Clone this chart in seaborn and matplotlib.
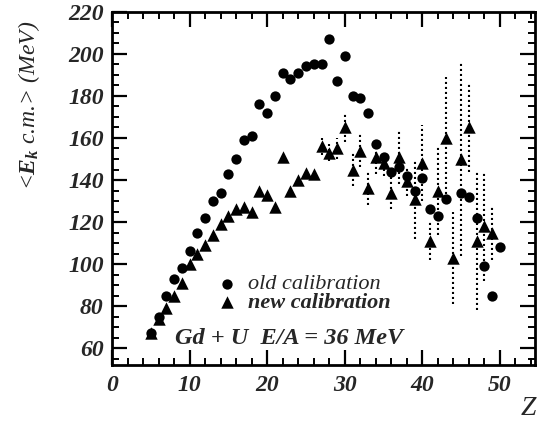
import matplotlib
matplotlib.use("Agg")
import matplotlib.pyplot as plt
from matplotlib.ticker import MultipleLocator
import seaborn as sns
import pandas as pd

# old calibration (circles)
z_old = [5, 6, 7, 8, 9, 10, 11, 12, 13, 14, 15, 16, 17, 18, 19, 20, 21, 22, 23, 24,
         25, 26, 27, 28, 29, 30, 31, 32, 33, 34, 35, 36, 37, 38, 39, 40, 41, 42, 43,
         45, 46, 47, 48, 49, 50]
e_old = [67, 75, 85, 93, 98, 106, 115, 122, 130, 134, 143, 150, 159, 161, 176, 172,
         180, 191, 188, 191, 194, 195, 195, 207, 187, 199, 180, 179, 172, 157, 151,
         144, 146, 142, 135, 141, 126, 123, 131, 134, 132, 122, 99, 85, 108]

# new calibration (triangles) with errors
z_new = list(range(5, 50))
e_new = [67, 74, 79, 85, 91, 100, 105, 109, 114, 119, 123, 126, 127, 125, 135, 133,
         127, 151, 135, 140, 143.5, 143, 156, 153, 155, 165, 145, 154, 136, 151, 148,
         134, 151, 139.5, 131, 148, 111, 135, 160, 103, 150, 165, 111, 118, 115]
err_new = [0, 0, 0, 0, 0, 0, 0, 0, 0, 0, 0, 0, 0, 0, 0, 0, 0, 0, 0, 0, 0, 0,
           4, 4, 5, 7, 8, 8, 8, 8, 6, 8, 13, 7, 19, 18, 9, 21, 29, 22, 46, 21, 33, 26, 13]

labels = ["old calibration", "new calibration"]
x_ticks = [0, 10, 20, 30, 40, 50]
y_ticks = [60, 80, 100, 120, 140, 160, 180, 200, 220]

sns.set_style("ticks")
plt.rcParams["font.family"] = ["Liberation Serif", "DejaVu Serif"]
plt.rcParams["font.weight"] = "bold"
plt.rcParams["font.style"] = "italic"
plt.rcParams["mathtext.fontset"] = "custom"
plt.rcParams["mathtext.it"] = "Liberation Serif:italic:bold"
plt.rcParams["mathtext.rm"] = "Liberation Serif:bold"

df_old = pd.DataFrame({"Z": z_old, "E": e_old})
df_new = pd.DataFrame({"Z": z_new, "E": e_new, "err": err_new})

fig = plt.figure(figsize=(5.52, 4.22), dpi=100)
ax = fig.add_axes([0.203, 0.135, 0.766, 0.837])

eb = ax.errorbar(df_new["Z"], df_new["E"], yerr=df_new["err"], fmt="none",
                 ecolor="black", elinewidth=1.5, capsize=0, zorder=1)
for lc in eb[2]:
    lc.set_linestyle((0, (1, 1.4)))

sns.scatterplot(data=df_old, x="Z", y="E", marker="o", s=55, color="black",
                edgecolor="black", linewidth=0, label=labels[0], ax=ax, zorder=3)
sns.scatterplot(data=df_new, x="Z", y="E", marker="^", s=80, color="black",
                edgecolor="black", linewidth=0, label=labels[1], ax=ax, zorder=3)

ax.set_xlim(0, 54.5)
ax.set_ylim(52, 220)
ax.set_xticks(x_ticks)
ax.set_yticks(y_ticks)
ax.xaxis.set_minor_locator(MultipleLocator(2))
ax.yaxis.set_minor_locator(MultipleLocator(5))
ax.tick_params(which="major", direction="in", length=10.5, width=1.6,
               top=True, right=True, labelsize=17, color="black")
ax.tick_params(which="minor", direction="in", length=5, width=1.4,
               top=True, right=True, color="black")
ax.tick_params(axis="x", which="major", pad=7)
ax.tick_params(axis="y", which="major", pad=6)
for sp in ax.spines.values():
    sp.set_linewidth(2)
    sp.set_color("black")

ax.set_xlabel("Z", fontsize=20)
ax.xaxis.set_label_coords(0.985, -0.088)
ax.set_ylabel(r"<$E_k$ c.m.> (MeV)", fontsize=17)
ax.yaxis.set_label_coords(-0.165, 0.735)

leg = ax.legend(loc="upper left", bbox_to_anchor=(0.245, 0.258), frameon=False,
                fontsize=16, handlelength=1.0, handletextpad=0.45,
                labelspacing=-0.1, borderpad=0, borderaxespad=0)
leg.get_texts()[0].set_fontweight("normal")

ax.text(0.149, 0.0765, "Gd + U  E/A = 36 MeV", transform=ax.transAxes,
        ha="left", va="center", fontsize=17.5)

fig.savefig("out.png", dpi=100)
